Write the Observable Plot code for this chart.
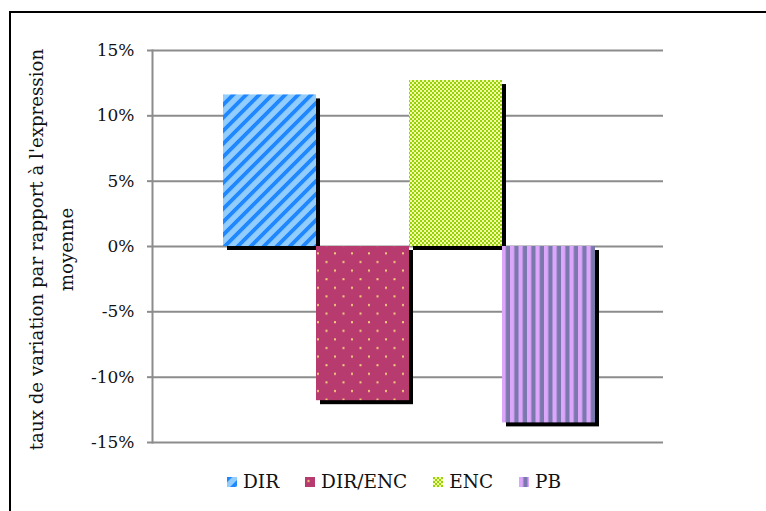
<!DOCTYPE html>
<html>
<head>
<meta charset="utf-8">
<script src="https://cdn.jsdelivr.net/npm/d3@7"></script>
<script src="https://cdn.jsdelivr.net/npm/@observablehq/plot@0.6"></script>
<style>
  html, body { margin: 0; padding: 0; background: #fff; }
  body { width: 766px; height: 511px; position: relative; overflow: hidden; font-family: "DejaVu Serif", serif; }
  #frame { position: absolute; left: 9px; top: 11px; width: 800px; height: 600px; border-top: 2px solid #000; border-left: 2px solid #000; pointer-events: none; }
  #chart { position: absolute; left: 0; top: 0; }
  #legend { position: absolute; left: 227px; top: 471px; display: flex; gap: 26px; align-items: center; font-size: 18.5px; color: #111; line-height: 22px; }
  #legend .item { display: flex; align-items: center; gap: 6px; }
  #legend svg { display: block; }
</style>
</head>
<body>
<svg width="0" height="0" style="position:absolute">
  <defs>
    <pattern id="p-dir" patternUnits="userSpaceOnUse" width="9.2" height="9.2" patternTransform="rotate(45)">
      <rect width="9.2" height="9.2" fill="#93cdfc"></rect>
      <rect width="3.8" height="9.2" fill="#1f87ff"></rect>
    </pattern>
    <pattern id="p-direnc" patternUnits="userSpaceOnUse" width="17" height="17.2">
      <rect width="17" height="17.2" fill="#b83b70"></rect>
      <rect x="2.5" y="3" width="2" height="2" fill="#f4cf7c"></rect>
      <rect x="11" y="11.6" width="2" height="2" fill="#f4cf7c"></rect>
    </pattern>
    <pattern id="p-enc" patternUnits="userSpaceOnUse" width="4" height="4">
      <rect width="4" height="4" fill="#f3fda0"></rect>
      <rect x="0" y="0" width="2" height="2" fill="#95d20c"></rect>
      <rect x="2" y="2" width="2" height="2" fill="#95d20c"></rect>
    </pattern>
    <pattern id="p-pb" patternUnits="userSpaceOnUse" width="8.5" height="8.5">
      <rect width="8.5" height="8.5" fill="#dca6fb"></rect>
      <rect x="4.25" width="4.25" height="8.5" fill="#7a78ac"></rect>
    </pattern>
  </defs>
</svg>
<div id="chart"></div>
<div id="legend"></div>
<div id="frame"></div>
<script>
const series = ["DIR", "DIR/ENC", "ENC", "PB"];
const values = [0.116, -0.118, 0.127, -0.135];
const fills = ["url(#p-dir)", "url(#p-direnc)", "url(#p-enc)", "url(#p-pb)"];
const yTicks = [-0.15, -0.10, -0.05, 0, 0.05, 0.10, 0.15];
const yTitle = "taux de variation par rapport à l'expression\nmoyenne";

const data = series.map((s, i) => ({ series: s, value: values[i], fill: fills[i] }));

const fmt = d => Math.round(d * 100) + "%";

const chart = Plot.plot({
  width: 766,
  height: 465,
  marginLeft: 152,
  marginRight: 103,
  marginTop: 50,
  marginBottom: 23,
  style: { fontFamily: "'DejaVu Serif', serif", fontSize: "17px", color: "#111", background: "transparent" },
  x: { domain: series, range: [222, 595], padding: 0, axis: null },
  y: { domain: [-0.15, 0.15], ticks: yTicks, tickFormat: fmt },
  marks: [
    Plot.gridY(yTicks, { stroke: "#8c8c8c", strokeOpacity: 1, strokeWidth: 2 }),
    Plot.frame({ anchor: "left", stroke: "#8c8c8c", strokeWidth: 2 }),
    Plot.axisY(yTicks, { tickSize: 5, tickPadding: 13, stroke: "#8c8c8c", strokeWidth: 2, tickFormat: fmt, fontSize: 17, label: null, fill: "#111" }),
    Plot.barY(data, { x: "series", y: "value", fill: "#000", dx: 4, dy: 4 }),
    Plot.barY(data, { x: "series", y: "value", fill: "fill" }),
    Plot.text([yTitle], { frameAnchor: "left", text: d => d, rotate: -90, dx: -104, dy: 3, fontSize: 18.2, lineHeight: 1.65, textAnchor: "middle", lineAnchor: "middle", fill: "#111" })
  ]
});
document.getElementById("chart").appendChild(chart);

const legend = d3.select("#legend");
series.forEach((s, i) => {
  const item = legend.append("div").attr("class", "item");
  const sw = item.append("svg").attr("width", 10).attr("height", 10);
  sw.append("rect").attr("width", 10).attr("height", 10).attr("fill", fills[i]);
  item.append("span").text(s);
});
</script>
</body>
</html>
